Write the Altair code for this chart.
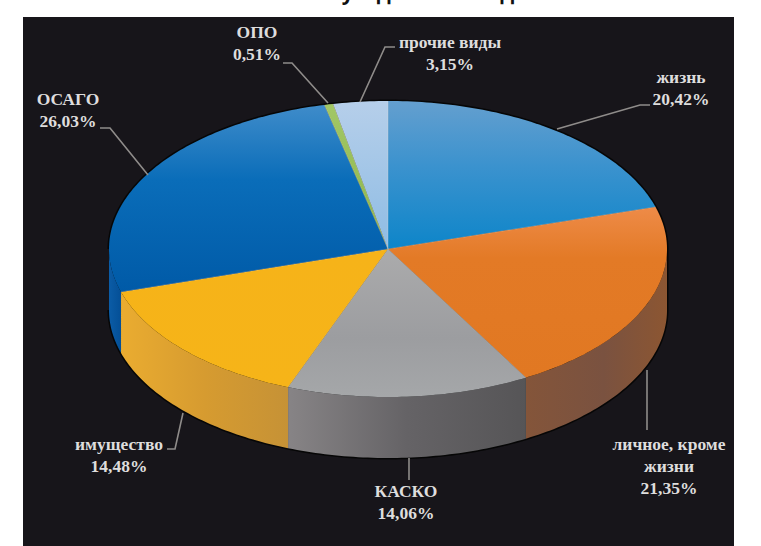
import math
import altair as alt
import pandas as pd

# Premium shares by insurance line, clockwise from twelve o'clock
names = ["жизнь", "личное, кроме\nжизни", "КАСКО", "имущество", "ОСАГО", "ОПО", "прочие виды"]
shares = [20.42, 21.35, 14.06, 14.48, 26.03, 0.51, 3.15]
headline = "Итоги полугодия 2010 года"

# Top face colour ramps (upper edge to lower edge)
top_ramps = [
    [("#649FCF", 0), ("#3A92CE", 0.45), ("#0D85C9", 1)],
    [("#EE8B48", 0), ("#E37A26", 0.3), ("#E17822", 1)],
    [("#ABABAC", 0), ("#9C9DA0", 0.6), ("#A5A7A9", 1)],
    [("#F6B319", 0), ("#F6B418", 1)],
    [("#3F8CCA", 0), ("#0A6DB9", 0.4), ("#005AA7", 1)],
    [("#A2C765", 0), ("#8CB54A", 1)],
    [("#B6CFEA", 0), ("#8EBCE4", 1)],
]
# Side wall colour ramps (left edge to right edge)
wall_ramps = [
    [("#8A5632", 0), ("#8A5632", 1)],
    [("#84553A", 0), ("#7A5240", 0.55), ("#8C5632", 1)],
    [("#878486", 0), ("#656366", 0.5), ("#565557", 1)],
    [("#EAAC30", 0), ("#D69B30", 0.5), ("#C69236", 1)],
    [("#0B5CA6", 0), ("#044F96", 1)],
    [("#6F8F3A", 0), ("#6F8F3A", 1)],
    [("#7C9CC0", 0), ("#7C9CC0", 1)],
]

CX, CY, RX, RY, DEPTH = 388, 249, 279, 148, 61
BLACK = "#17151A"
TEXT = "#DEDDDD"
LEADER = "#8F8C8A"

x_scale = alt.Scale(domain=[0, 761], range=[0, 761], nice=False, zero=False)
y_scale = alt.Scale(domain=[0, 546], range=[0, 546], nice=False, zero=False)


def ex(deg):
    return CX + RX * math.sin(math.radians(deg))


def ey(deg):
    return CY - RY * math.cos(math.radians(deg))


def arc(a, b):
    n = max(2, int(abs(b - a)) + 2)
    return [a + (b - a) * i / (n - 1) for i in range(n)]


def path(mark_kw, pts):
    frame = pd.DataFrame({"x": [p[0] for p in pts], "y": [p[1] for p in pts], "i": range(len(pts))})
    return alt.Chart(frame).mark_line(**mark_kw).encode(
        x=alt.X("x:Q", scale=x_scale, axis=None),
        y=alt.Y("y:Q", scale=y_scale, axis=None),
        order="i:Q",
    )


def ramp(stops, vertical):
    return alt.Gradient(
        gradient="linear",
        stops=[alt.GradientStop(color=c, offset=o) for c, o in stops],
        x1=0, y1=0,
        x2=0 if vertical else 1,
        y2=1 if vertical else 0,
    )


def label(lines, cx, baseline, size=17.5, gap=22):
    frame = pd.DataFrame({
        "x": [cx] * len(lines),
        "y": [baseline + gap * k for k in range(len(lines))],
        "t": lines,
    })
    return alt.Chart(frame).mark_text(
        font="Liberation Serif", fontWeight="bold", fontSize=size, color=TEXT,
        align="center", baseline="alphabetic",
    ).encode(
        x=alt.X("x:Q", scale=x_scale, axis=None),
        y=alt.Y("y:Q", scale=y_scale, axis=None),
        text="t:N",
    )


def pct(v):
    return f"{v:.2f}".replace(".", ",") + "%"


edges = [0.0]
for s in shares:
    edges.append(edges[-1] + s * 3.6)

layers = []

# Page heading, mostly above the top edge of the page
layers.append(
    alt.Chart(pd.DataFrame({"x": [378], "y": [0], "t": [headline]})).mark_text(
        font="Open Sans", fontWeight="bold", fontSize=21, color="#111111",
        align="center", baseline="alphabetic",
    ).encode(
        x=alt.X("x:Q", scale=x_scale, axis=None),
        y=alt.Y("y:Q", scale=y_scale, axis=None),
        text="t:N",
    )
)

# Dark panel behind the pie
layers.append(
    alt.Chart(pd.DataFrame({"x": [23], "x2": [734], "y": [17], "y2": [546]})).mark_rect(color=BLACK).encode(
        x=alt.X("x:Q", scale=x_scale, axis=None),
        x2="x2:Q",
        y=alt.Y("y:Q", scale=y_scale, axis=None),
        y2="y2:Q",
    )
)

# Thin black halo round the disc
rim = [(ex(d), ey(d)) for d in arc(-90, 90)]
rim += [(ex(d), ey(d) + DEPTH) for d in arc(90, 270)]
layers.append(path({"stroke": "#060606", "strokeWidth": 3, "fill": "#060606"}, rim))

# Side walls: only the front half of the disc shows a wall
for i in range(len(shares)):
    a = max(edges[i], 90)
    b = min(edges[i + 1], 270)
    if a >= b:
        continue
    pts = [(ex(d), ey(d)) for d in arc(a, b)]
    pts += [(ex(d), ey(d) + DEPTH) for d in arc(b, a)]
    layers.append(path({"fill": ramp(wall_ramps[i], False), "strokeWidth": 0}, pts))

# Top faces of the slices
for i in range(len(shares)):
    pts = [(CX, CY)] + [(ex(d), ey(d)) for d in arc(edges[i], edges[i + 1])]
    layers.append(path({"fill": ramp(top_ramps[i], True), "strokeWidth": 0}, pts))

# Faint pale seams between neighbouring slices
for d in edges[:-1]:
    layers.append(path({"stroke": "#E8DFD0", "strokeWidth": 1, "opacity": 0.3}, [(CX, CY), (ex(d), ey(d))]))

# Leader lines from the disc to the labels
leaders = [
    [(557, 129), (640, 105), (650, 105)],
    [(647, 370), (647, 430)],
    [(409, 458), (409, 480)],
    [(183, 413), (175, 449), (167, 449)],
    [(148, 175), (110, 128), (100, 128)],
    [(328, 103), (292, 63), (283, 63)],
    [(360, 102), (385, 47), (395, 47)],
]
for pts in leaders:
    layers.append(path({"stroke": LEADER, "strokeWidth": 1.6}, pts))

# Category and percentage labels
anchors = [(681, 83), (669, 450), (406, 497), (119, 450), (68, 105), (257, 38), (450, 48)]
for name, share, (ax, ay) in zip(names, shares, anchors):
    layers.append(label(name.split("\n") + [pct(share)], ax, ay))

chart = alt.layer(*layers).properties(
    width=761,
    height=546,
    padding=0,
    autosize=alt.AutoSizeParams(type="none"),
    background="#FFFFFF",
).configure_view(strokeWidth=0)

chart.save("out.html", embed_options={"renderer": "svg", "actions": False})
